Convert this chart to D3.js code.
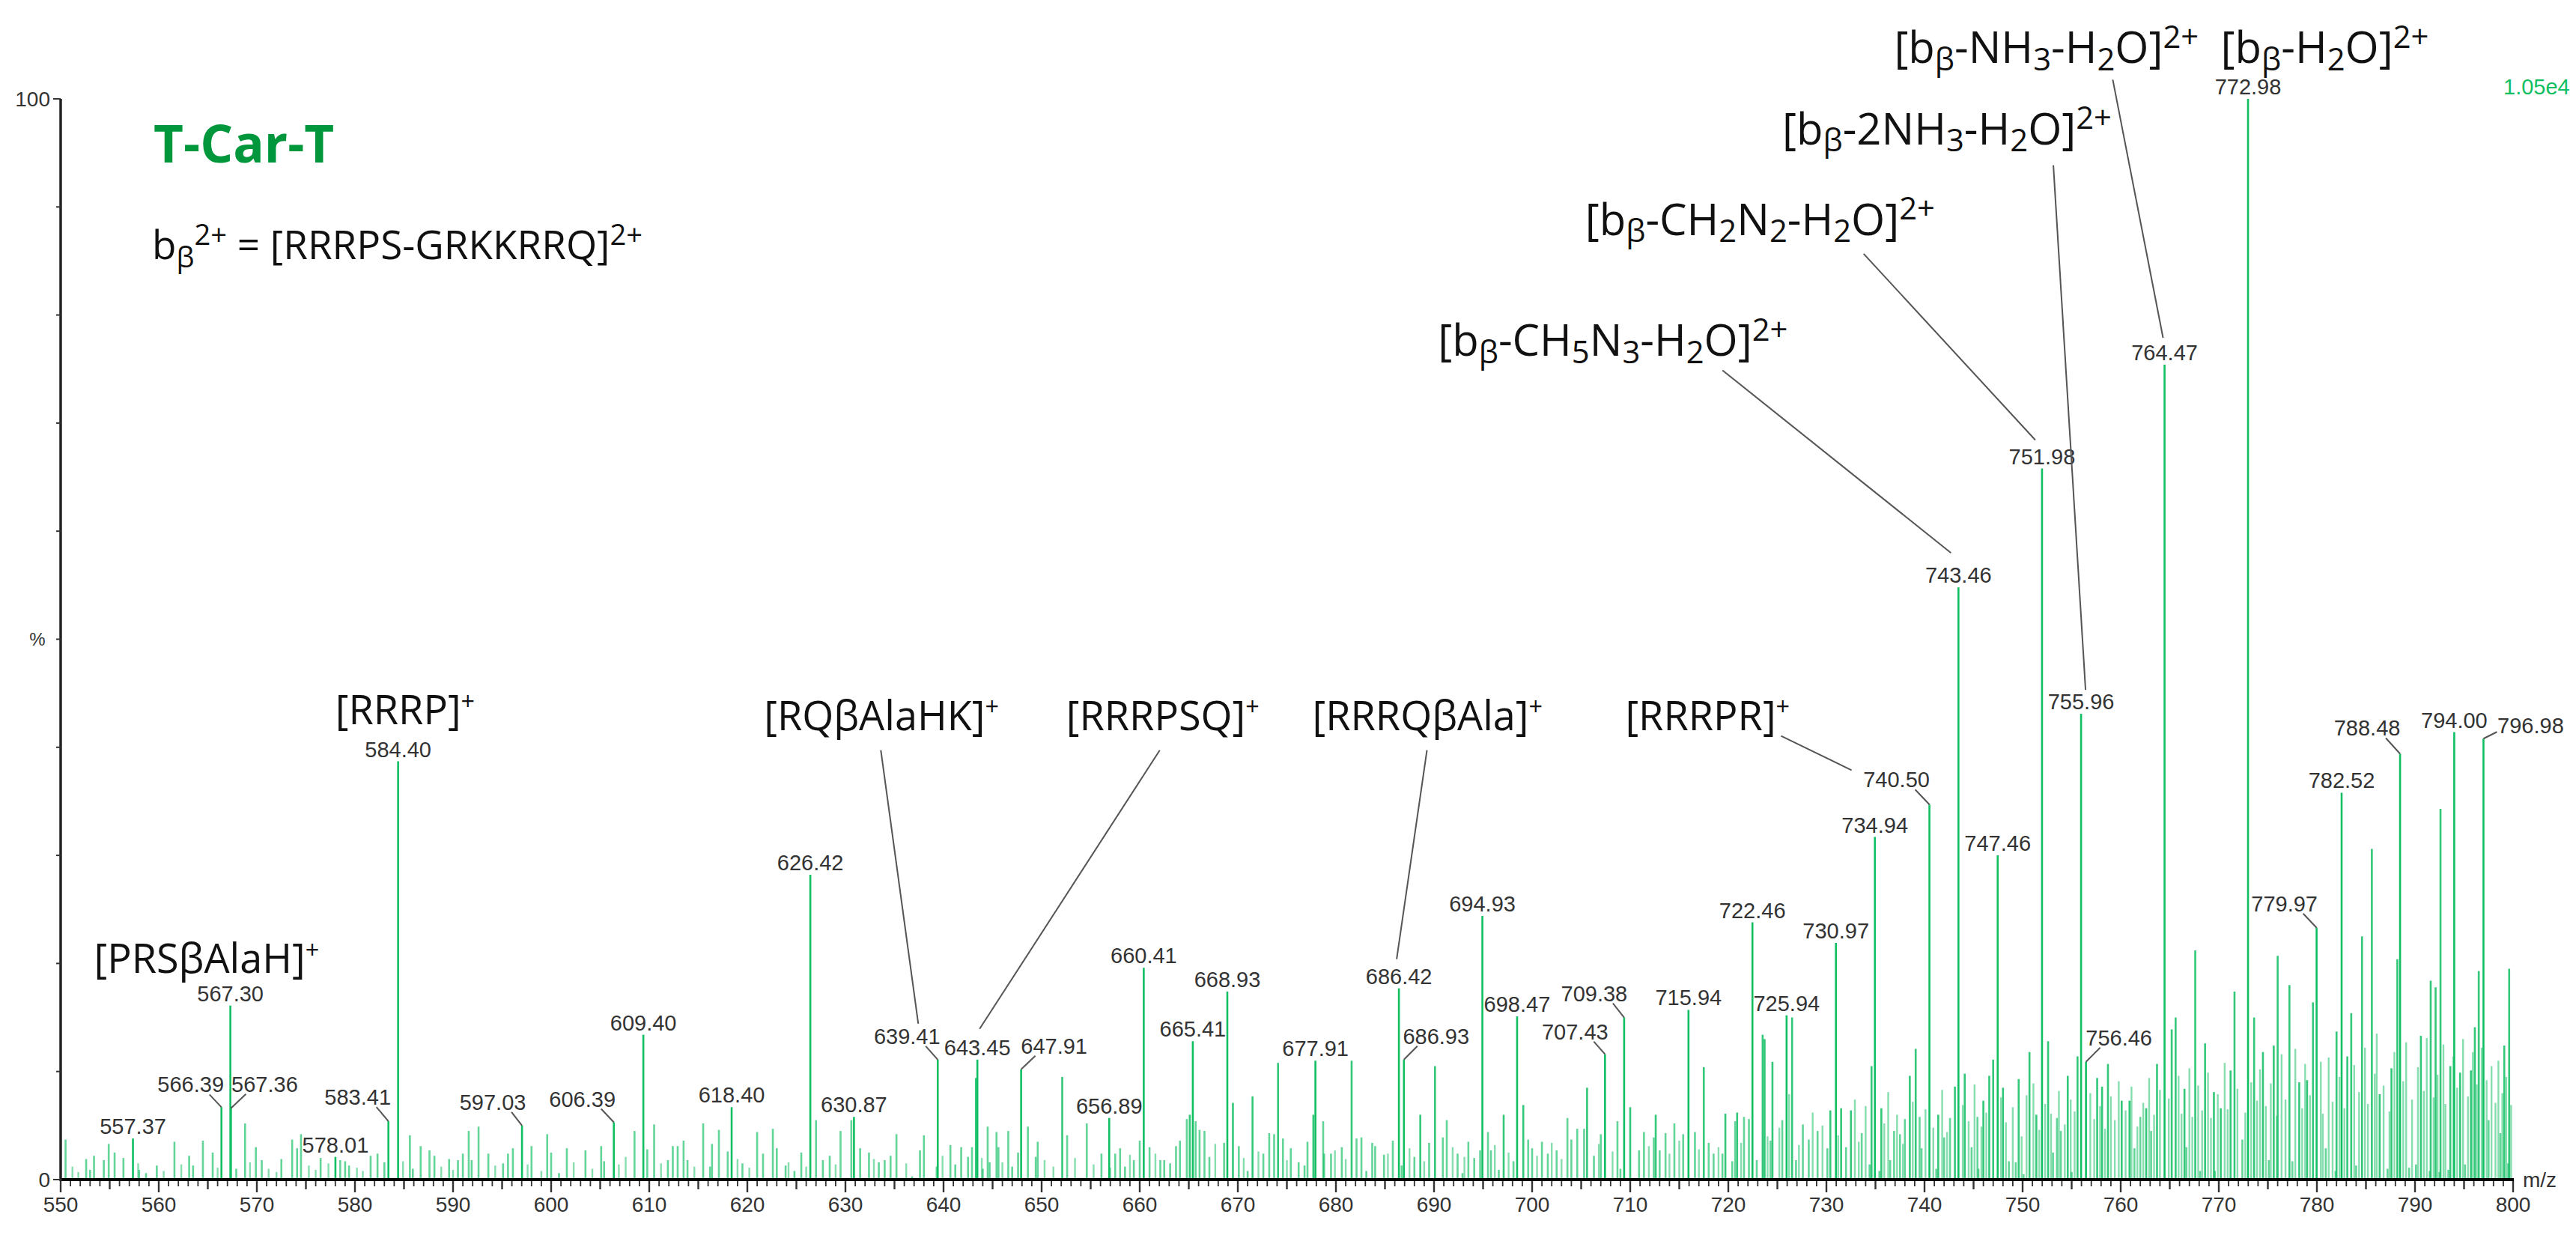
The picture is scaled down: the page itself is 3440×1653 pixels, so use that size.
<!DOCTYPE html>
<html>
<head>
<meta charset="utf-8">
<script src="https://cdn.jsdelivr.net/npm/d3@7"></script>
<style>
  body { margin: 0; background: #fff; }
  svg { display: block; }
</style>
</head>
<body>
<svg id="chart" width="3440" height="1653"></svg>
<script>
// ---- data -------------------------------------------------------------
const mzRange = [550, 800];
const xTickLabels = d3.range(550, 801, 10);
const yTickLabels = [0, 100];

// labelled peaks: [m/z, relative intensity %]
const labelledPeaks = [
  [557.37, 3.8], [566.39, 6.7], [567.30, 16.1], [567.36, 6.6], [578.01, 2.1],
  [583.41, 5.4], [584.40, 38.7], [597.03, 5.0], [606.39, 5.3], [609.40, 13.4],
  [618.40, 6.7], [626.42, 28.2], [630.87, 5.8], [639.41, 11.1], [643.45, 11.1],
  [647.91, 10.2], [656.89, 5.7], [660.41, 19.6], [665.41, 12.8], [668.93, 17.4],
  [677.91, 11.0], [686.42, 17.7], [686.93, 11.1], [694.93, 24.4], [698.47, 15.1],
  [707.43, 11.6], [709.38, 15.0], [715.94, 15.7], [722.46, 23.8], [725.94, 15.2],
  [730.97, 21.9], [734.94, 31.7], [740.50, 34.7], [743.46, 54.8], [747.46, 30.0],
  [751.98, 65.8], [755.96, 43.1], [756.46, 10.9], [764.47, 75.4], [772.98, 100],
  [779.97, 23.3], [782.52, 35.8], [788.48, 39.4], [794.00, 41.4], [796.98, 40.8]
];

// unlabelled peaks, 550-635
const peaksLow = [
  [550.5, 3.7], [552.6, 1.9], [553.0, 0.9], [553.4, 2.2], [554.4, 1.8], [554.9, 3.3],
  [555.5, 2.5], [556.4, 2.0], [558.0, 0.9], [558.7, 0.6], [559.8, 1.3], [561.6, 3.5],
  [563.1, 2.2], [563.5, 1.3], [564.5, 3.6], [565.5, 2.5], [567.9, 1.0], [568.8, 5.2],
  [569.9, 3.0], [570.5, 1.8], [572.5, 1.9], [573.6, 3.7], [574.1, 2.9], [574.5, 4.2],
  [576.5, 2.0], [578.5, 1.8], [579.0, 1.7], [579.4, 1.3], [581.6, 2.2], [582.3, 2.4],
  [583.0, 1.6], [585.6, 4.1], [585.9, 1.0], [586.7, 3.1], [587.6, 2.7], [588.1, 2.2],
  [589.6, 1.9], [590.5, 1.8], [591.0, 2.4], [591.6, 4.5], [591.9, 1.8], [592.6, 4.9],
  [593.6, 2.4], [595.1, 1.5], [595.6, 2.4], [596.1, 2.9], [598.0, 3.1], [599.6, 4.2],
  [600.0, 2.5], [600.8, 0.6], [601.6, 2.9], [603.5, 2.7], [605.1, 3.1], [605.4, 1.7],
  [608.5, 4.5], [609.8, 2.8], [610.5, 5.1], [611.9, 1.8], [612.4, 3.1], [612.9, 3.1],
  [613.5, 3.6], [613.9, 1.8], [615.5, 5.2], [616.2, 1.2], [616.4, 3.3], [617.1, 4.6],
  [618.0, 2.6], [619.5, 1.5], [621.0, 4.4], [621.6, 2.4], [622.6, 4.7], [623.0, 2.9],
  [623.9, 1.3], [624.8, 0.8], [625.5, 2.5], [627.0, 5.5], [627.7, 1.8], [628.4, 2.2],
  [629.5, 4.5], [630.6, 5.5], [631.5, 2.9], [632.4, 2.5], [633.4, 1.6], [634.0, 1.8],
  [634.6, 2.2], [635.2, 4.2]
];

// unlabelled peaks, 636-725
const peaksMid = [
  [636.8, 0.3], [637.6, 2.7], [638.0, 4.1], [639.3, 1.2], [640.7, 3.2], [641.2, 1.4],
  [641.8, 3.0], [642.5, 2.1], [642.9, 3.0], [643.3, 9.4], [644.0, 1.0], [644.5, 4.9],
  [644.7, 1.6], [645.4, 4.4], [645.6, 3.0], [646.6, 4.5], [647.0, 1.2], [647.6, 2.5],
  [648.6, 4.9], [649.4, 2.1], [649.6, 3.5], [652.1, 9.5], [652.6, 4.1], [654.6, 5.2],
  [656.1, 2.4], [657.5, 2.4], [658.0, 2.9], [658.5, 1.2], [659.4, 1.8], [660.0, 3.6],
  [661.0, 3.0], [662.1, 1.8], [662.5, 1.8], [663.1, 1.5], [663.7, 3.1], [664.1, 3.6],
  [664.8, 5.6], [665.1, 6.0], [665.7, 5.4], [666.1, 4.6], [666.6, 4.5], [667.1, 2.1],
  [668.6, 3.4], [669.5, 7.1], [670.1, 3.1], [671.0, 0.8], [671.5, 7.7], [672.6, 2.4],
  [673.2, 4.3], [673.7, 4.2], [674.1, 10.8], [674.6, 3.8], [675.4, 2.9], [676.2, 1.6],
  [676.8, 1.3], [677.1, 3.5], [677.7, 6.0], [678.7, 5.4], [678.8, 2.4], [679.5, 2.4],
  [680.6, 3.0], [681.6, 11.0], [682.1, 3.8], [682.6, 3.9], [683.1, 0.8], [683.7, 3.4],
  [684.0, 3.1], [684.9, 2.3], [685.8, 3.6], [686.7, 1.3], [688.0, 2.1], [688.6, 6.0],
  [689.5, 3.4], [690.1, 10.5], [690.9, 3.9], [691.3, 5.5], [692.4, 2.4], [692.9, 0.6],
  [693.5, 3.5], [694.1, 2.0], [694.7, 2.7], [695.5, 4.4], [695.8, 2.7], [696.6, 0.9],
  [697.1, 6.0], [698.1, 1.7], [699.1, 6.9], [699.6, 3.7], [700.0, 2.9], [701.0, 3.5],
  [701.6, 2.4], [702.5, 2.7], [703.6, 5.7], [704.0, 3.7], [704.6, 4.7], [705.3, 4.7],
  [705.6, 8.5], [706.3, 2.2], [707.0, 4.2], [708.7, 5.4], [709.0, 1.0], [710.0, 6.7],
  [710.9, 2.7], [711.4, 4.4], [712.4, 3.9], [712.6, 6.0], [713.0, 2.7], [713.6, 4.3],
  [714.5, 5.2], [715.4, 4.2], [716.6, 4.4], [717.5, 10.4], [718.0, 3.4], [718.5, 2.4],
  [719.4, 2.4], [719.7, 6.1], [720.4, 1.7], [720.7, 5.4], [720.9, 6.2], [721.6, 5.8],
  [722.1, 5.6], [722.9, 1.8], [723.5, 13.4], [723.7, 13.0], [724.3, 3.6], [724.5, 10.9],
  [725.5, 5.5]
];

// unlabelled peaks, 726-800
const peaksHigh = [
  [726.5, 15.0], [726.9, 1.8], [727.6, 5.1], [728.2, 3.7], [729.1, 4.5], [730.1, 2.9],
  [730.4, 6.4], [731.5, 6.6], [732.0, 3.0], [732.5, 6.4], [733.6, 4.3], [734.4, 1.4],
  [734.6, 10.5], [735.4, 0.8], [735.6, 6.6], [736.5, 1.8], [736.9, 4.5], [737.5, 4.2],
  [738.0, 5.6], [738.5, 9.6], [739.1, 12.1], [739.5, 5.8], [739.7, 2.9], [741.2, 1.0],
  [741.4, 6.0], [742.0, 3.9], [742.6, 5.7], [743.1, 8.6], [744.1, 9.8], [744.8, 3.0],
  [745.4, 5.8], [745.5, 1.0], [746.0, 7.3], [746.6, 9.6], [747.0, 11.1], [748.0, 8.5],
  [748.6, 1.7], [749.3, 1.6], [749.6, 9.3], [750.1, 0.5], [750.7, 11.8], [751.4, 6.0],
  [752.6, 12.8], [753.1, 2.5], [753.5, 5.7], [753.9, 4.5], [754.6, 9.6], [755.0, 0.7],
  [755.6, 11.4], [757.6, 9.4], [758.1, 8.6], [758.7, 10.7], [760.1, 7.3], [760.9, 7.3],
  [761.4, 2.9], [762.0, 5.8], [762.6, 6.6], [763.1, 4.5], [763.7, 10.7], [765.2, 13.9],
  [765.6, 15.0], [766.5, 8.4], [766.7, 3.0], [767.6, 21.2], [768.1, 0.8], [768.6, 12.6],
  [769.5, 8.1], [769.6, 0.8], [770.2, 6.6], [771.2, 10.1], [771.6, 17.4], [772.4, 3.7],
  [773.6, 15.0], [774.5, 11.8], [775.1, 1.8], [775.6, 12.4], [776.0, 20.7], [777.2, 18.0],
  [777.5, 1.7], [778.2, 9.0], [779.0, 9.2], [779.6, 16.4], [780.9, 2.9], [781.9, 0.8],
  [782.0, 13.7], [783.1, 11.4], [783.5, 15.4], [784.0, 1.3], [784.6, 22.5], [785.6, 30.6],
  [786.4, 7.9], [787.2, 1.0], [787.6, 10.3], [788.2, 20.4], [789.4, 1.1], [790.1, 1.4],
  [790.6, 13.3], [791.5, 0.8], [791.6, 18.4], [792.1, 17.8], [792.5, 0.7], [792.6, 34.3],
  [793.4, 0.9], [793.6, 10.5], [794.6, 9.9], [795.1, 1.4], [795.7, 10.1], [796.1, 14.1],
  [796.5, 19.3], [797.5, 5.5], [798.7, 4.3], [799.1, 12.4], [799.5, 1.5], [799.6, 19.5]
];

// fainter background peaks, 550-725
const minorLow = [
  [551.2, 1.2], [551.8, 0.7], [557.9, 1.5], [560.5, 0.8], [562.3, 1.4], [566.0, 1.1],
  [569.3, 1.6], [571.2, 1.0], [572.0, 0.7], [575.3, 1.3], [576.0, 0.9], [577.3, 1.5],
  [580.2, 1.1], [580.8, 0.8], [584.9, 1.7], [588.8, 1.2], [590.0, 0.9], [594.3, 1.3],
  [597.6, 1.4], [599.0, 0.8], [602.3, 1.6], [604.2, 1.0], [606.9, 1.4], [607.6, 2.1],
  [611.2, 1.5], [614.6, 1.2], [619.0, 1.9], [620.2, 1.1], [624.2, 1.6], [626.0, 1.2],
  [629.0, 1.4], [632.9, 1.9], [636.2, 1.5], [639.9, 2.2], [643.9, 2.0], [646.0, 1.6],
  [650.3, 1.8], [651.2, 1.2], [653.4, 2.0], [655.3, 1.4], [657.0, 1.1], [659.0, 2.3],
  [661.6, 2.4], [667.7, 3.3], [670.6, 2.0], [672.1, 2.6], [675.0, 1.8], [679.9, 2.7],
  [681.0, 1.9], [685.3, 2.4], [687.5, 2.9], [689.0, 1.7], [691.9, 3.0], [693.1, 2.1],
  [696.2, 3.2], [697.6, 2.5], [700.5, 2.2], [702.0, 3.4], [703.0, 1.9], [706.8, 3.3],
  [708.2, 2.6], [711.9, 3.1], [714.0, 2.4], [715.0, 3.6], [717.0, 2.8], [719.0, 3.0],
  [721.3, 3.4], [724.0, 4.0]
];

// fainter background peaks, 725-800
const minorHigh = [
  [725.2, 4.8], [726.2, 7.9], [727.2, 3.2], [728.6, 6.2], [729.6, 5.0], [731.2, 4.1],
  [732.9, 7.4], [733.3, 3.5], [734.0, 6.8], [735.9, 5.2], [736.3, 8.1], [737.2, 6.0],
  [737.8, 3.3], [738.8, 7.2], [740.1, 6.5], [740.9, 4.8], [741.8, 8.3], [742.3, 4.4],
  [743.9, 6.9], [744.5, 5.4], [745.1, 8.8], [745.8, 4.9], [746.3, 6.2], [747.8, 7.6],
  [748.3, 5.3], [749.0, 6.7], [749.9, 4.0], [750.4, 7.8], [751.1, 8.9], [751.7, 4.6],
  [752.3, 7.0], [752.9, 6.1], [753.7, 8.2], [754.3, 5.1], [754.9, 7.4], [755.3, 6.3],
  [756.9, 8.0], [757.3, 5.6], [757.9, 6.8], [758.4, 4.7], [759.0, 7.7], [759.4, 5.5],
  [759.8, 9.1], [760.5, 6.4], [761.1, 8.6], [761.7, 4.9], [762.3, 7.1], [762.9, 9.4],
  [763.4, 6.0], [764.0, 8.3], [764.9, 7.5], [765.9, 9.6], [766.2, 6.1], [767.0, 10.3],
  [767.3, 5.8], [767.9, 8.7], [768.3, 6.4], [768.9, 9.9], [769.2, 5.7], [769.9, 7.9],
  [770.6, 10.8], [770.9, 6.5], [771.9, 8.4], [772.7, 6.2], [773.3, 9.0], [773.9, 7.3],
  [774.2, 10.2], [774.8, 6.8], [775.3, 8.9], [775.9, 5.9], [776.4, 11.6], [776.8, 7.4],
  [777.8, 12.1], [778.5, 6.6], [778.8, 10.7], [779.3, 7.8], [780.4, 10.9], [780.6, 6.1],
  [781.2, 11.3], [781.6, 7.2], [782.3, 9.5], [782.8, 6.6], [783.8, 10.6], [784.3, 8.1],
  [784.9, 12.2], [785.2, 7.0], [785.9, 9.8], [786.1, 13.5], [786.8, 8.7], [787.4, 6.3],
  [787.9, 11.8], [788.8, 9.1], [789.1, 12.7], [789.7, 7.4], [790.3, 10.4], [790.9, 8.2],
  [791.2, 13.1], [791.9, 7.6], [792.3, 9.7], [792.9, 12.5], [793.1, 7.0], [793.9, 11.4],
  [794.3, 8.5], [794.9, 13.0], [795.4, 7.7], [795.9, 11.8], [796.3, 8.8], [796.8, 12.2],
  [797.3, 9.2], [797.8, 10.5], [798.2, 7.1], [798.5, 11.0], [798.9, 8.0], [799.3, 9.5],
  [799.8, 6.9]
];

// ion annotations (text pieces; "sub"/"sup" mark indices), and the peak they point at
const ionLabels = [
  { parts: [["[PRSβAlaH]"], ["+", "sup"]], target: null },
  { parts: [["[RRRP]"], ["+", "sup"]], target: null },
  { parts: [["[RQβAlaHK]"], ["+", "sup"]], target: "639.41" },
  { parts: [["[RRRPSQ]"], ["+", "sup"]], target: "643.45" },
  { parts: [["[RRRQβAla]"], ["+", "sup"]], target: "686.42" },
  { parts: [["[RRRPR]"], ["+", "sup"]], target: "740.50" },
  { parts: [["[b"], ["β", "sub"], ["-CH"], ["5", "sub"], ["N"], ["3", "sub"], ["-H"], ["2", "sub"], ["O]"], ["2+", "sup"]], target: "743.46", big: true },
  { parts: [["[b"], ["β", "sub"], ["-CH"], ["2", "sub"], ["N"], ["2", "sub"], ["-H"], ["2", "sub"], ["O]"], ["2+", "sup"]], target: "751.98", big: true },
  { parts: [["[b"], ["β", "sub"], ["-2NH"], ["3", "sub"], ["-H"], ["2", "sub"], ["O]"], ["2+", "sup"]], target: "755.96", big: true },
  { parts: [["[b"], ["β", "sub"], ["-NH"], ["3", "sub"], ["-H"], ["2", "sub"], ["O]"], ["2+", "sup"]], target: "764.47", big: true },
  { parts: [["[b"], ["β", "sub"], ["-H"], ["2", "sub"], ["O]"], ["2+", "sup"]], target: null, big: true }
];

const titleText = "T-Car-T";
const formulaParts = [["b"], ["β", "sub"], ["2+", "sup"], [" = [RRRPS-GRKKRRQ]"], ["2+", "sup"]];
const scaleText = "1.05e4";

// ---- layout -----------------------------------------------------------
const W = 3440, H = 1653;
const plot = { left: 81, right: 3356, top: 132, bottom: 1575 };
const green = "#10bf62";
const darkGreen = "#00963c";

// label shifts for peak labels drawn beside their peak: [dx px, extra raise px]
const labelShift = {
  "566.39": [-41, 14], "567.36": [45, 16], "583.41": [-41, 16], "597.03": [-39, 15],
  "606.39": [-42, 15], "639.41": [-41, 15], "647.91": [44, 15], "686.93": [43, 15],
  "707.43": [-40, 14], "709.38": [-40, 16], "740.50": [-44, 17], "756.46": [44, 16],
  "779.97": [-43, 16], "788.48": [-44, 18], "796.98": [63, 1]
};

// ion label anchor (m/z, %) + leader start offset and leader end offset (px)
const ionLayout = [
  { at: [553.4, 19.1] },
  { at: [578.0, 42.1] },
  { at: [621.7, 41.6], from: [156, 27], to: [15, -27] },
  { at: [652.5, 41.6], from: [125, 27], to: [3, -35] },
  { at: [677.6, 41.6], from: [153, 27], to: [-3, -33] },
  { at: [709.5, 41.6], from: [208, 8], to: [-60, -23] },
  { at: [690.4, 76.2], from: [380, 19], to: [-10, -40] },
  { at: [705.4, 87.4], from: [372, 25], to: [-9, -32] },
  { at: [725.5, 95.8], from: [362, 28], to: [6, -26] },
  { at: [736.9, 103.3], from: [292, 22], to: [-2, -30] },
  { at: [770.2, 103.3] }
];

const svg = d3.select("#chart");
svg.append("rect").attr("width", W).attr("height", H).attr("fill", "#fff");

const x = d3.scaleLinear().domain(mzRange).range([plot.left, plot.right]);
const y = d3.scaleLinear().domain([0, 100]).range([plot.bottom, plot.top]);

const numFont = "'Liberation Sans', Arial, sans-serif";
const ionFont = "'Open Sans', 'Noto Sans', sans-serif";

// ---- peaks ------------------------------------------------------------
const peakLayer = svg.append("g").attr("class", "peaks");

peakLayer.selectAll("line.minor")
  .data(minorLow.concat(minorHigh))
  .join("line")
  .attr("class", "minor")
  .attr("x1", d => x(d[0])).attr("x2", d => x(d[0]))
  .attr("y1", y(0)).attr("y2", d => y(d[1]))
  .attr("stroke", green)
  .attr("stroke-width", 2.4)
  .attr("opacity", 0.5);

peakLayer.selectAll("line.bg")
  .data(peaksLow.concat(peaksMid, peaksHigh))
  .join("line")
  .attr("class", "bg")
  .attr("x1", d => x(d[0])).attr("x2", d => x(d[0]))
  .attr("y1", y(0)).attr("y2", d => y(d[1]))
  .attr("stroke", green)
  .attr("stroke-width", 2.6)
  .attr("opacity", d => d[1] < 6 ? 0.65 : 0.85);

peakLayer.selectAll("line.main")
  .data(labelledPeaks)
  .join("line")
  .attr("class", "main")
  .attr("x1", d => x(d[0])).attr("x2", d => x(d[0]))
  .attr("y1", y(0)).attr("y2", d => y(d[1]))
  .attr("stroke", green)
  .attr("stroke-width", 2.6);

// ---- axes -------------------------------------------------------------
const axisLayer = svg.append("g").attr("class", "axes");

axisLayer.selectAll("line.xtick")
  .data(d3.range(550, 801, 1))
  .join("line")
  .attr("class", "xtick")
  .attr("x1", d => x(d)).attr("x2", d => x(d))
  .attr("y1", plot.bottom)
  .attr("y2", d => plot.bottom + (d % 10 === 0 ? 17 : d % 5 === 0 ? 13 : 9))
  .attr("stroke", "#333")
  .attr("stroke-width", d => d % 5 === 0 ? 2.4 : 1.8);

axisLayer.selectAll("text.xlabel")
  .data(xTickLabels)
  .join("text")
  .attr("class", "xlabel")
  .attr("x", d => x(d))
  .attr("y", plot.bottom + 43)
  .attr("text-anchor", "middle")
  .attr("font-family", numFont)
  .attr("font-size", 28)
  .attr("fill", "#333")
  .text(d => d);

axisLayer.append("line")
  .attr("x1", plot.left - 1).attr("x2", plot.right + 1)
  .attr("y1", plot.bottom).attr("y2", plot.bottom)
  .attr("stroke", "#000").attr("stroke-width", 4);

axisLayer.append("line")
  .attr("x1", plot.left).attr("x2", plot.left)
  .attr("y1", plot.top).attr("y2", plot.bottom + 2)
  .attr("stroke", "#222").attr("stroke-width", 3.5);

axisLayer.selectAll("line.ytick")
  .data(d3.range(0, 101, 10))
  .join("line")
  .attr("class", "ytick")
  .attr("x1", d => plot.left - (d % 100 === 0 ? 10 : 6)).attr("x2", plot.left)
  .attr("y1", d => y(d)).attr("y2", d => y(d))
  .attr("stroke", "#333").attr("stroke-width", 2);

axisLayer.selectAll("text.ylabel")
  .data(yTickLabels)
  .join("text")
  .attr("class", "ylabel")
  .attr("x", plot.left - 14)
  .attr("y", d => y(d) + 10)
  .attr("text-anchor", "end")
  .attr("font-family", numFont)
  .attr("font-size", 28)
  .attr("fill", "#333")
  .text(d => d);

axisLayer.append("text")
  .attr("x", 50).attr("y", y(50) + 8)
  .attr("text-anchor", "middle")
  .attr("font-family", numFont).attr("font-size", 24).attr("fill", "#333")
  .text("%");

axisLayer.append("text")
  .attr("x", plot.right + 13).attr("y", plot.bottom + 10)
  .attr("font-family", numFont).attr("font-size", 28).attr("fill", "#333")
  .text("m/z");

svg.append("text")
  .attr("x", 3343).attr("y", y(100) - 6)
  .attr("font-family", numFont).attr("font-size", 29).attr("fill", green)
  .text(scaleText);

// ---- peak labels -----------------------------------------------------
const fmt = d3.format(".2f");
const labelPos = new Map();
labelledPeaks.forEach(d => {
  const key = fmt(d[0]);
  const [dx, raise] = labelShift[key] || [0, 0];
  labelPos.set(key, { cx: x(d[0]) + dx, base: y(d[1]) - 6 - raise, px: x(d[0]), py: y(d[1]), dx });
});

const labelLayer = svg.append("g").attr("class", "peak-labels");
labelLayer.selectAll("text")
  .data(labelledPeaks)
  .join("text")
  .attr("x", d => labelPos.get(fmt(d[0])).cx)
  .attr("y", d => labelPos.get(fmt(d[0])).base)
  .attr("text-anchor", "middle")
  .attr("font-family", numFont)
  .attr("font-size", 29)
  .attr("fill", "#333")
  .text(d => fmt(d[0]));

labelLayer.selectAll("line")
  .data(labelledPeaks.filter(d => labelShift[fmt(d[0])]))
  .join("line")
  .each(function (d) {
    const p = labelPos.get(fmt(d[0]));
    const s = Math.sign(p.dx);
    const far = Math.abs(p.dx) > 55;
    d3.select(this)
      .attr("x1", p.cx - s * (far ? 45 : 25)).attr("y1", p.base + (far ? -2 : 3))
      .attr("x2", p.px).attr("y2", p.py);
  })
  .attr("stroke", "#555").attr("stroke-width", 2);

// ---- rich text helper ------------------------------------------------
function richText(sel, parts, size, small, subDrop) {
  let shift = 0;
  parts.forEach(([txt, kind]) => {
    const target = kind === "sub" ? size * subDrop : kind === "sup" ? -size * 0.36 : 0;
    sel.append("tspan")
      .attr("dy", target - shift)
      .attr("font-size", kind ? size * small : size)
      .text(txt);
    shift = target;
  });
}

// ---- ion annotations --------------------------------------------------
const ionLayer = svg.append("g").attr("class", "ions");
ionLabels.forEach((lab, i) => {
  const lay = ionLayout[i];
  const ax = x(lay.at[0]), ay = y(lay.at[1]);
  const size = lab.big ? 58 : 54;
  const t = ionLayer.append("text")
    .attr("x", ax).attr("y", ay)
    .attr("font-family", ionFont)
    .attr("fill", "#111");
  richText(t, lab.parts, size, lab.big ? 0.72 : 0.6, 0.16);

  if (lab.target && lay.from) {
    const p = labelPos.get(lab.target);
    ionLayer.append("line")
      .attr("x1", ax + lay.from[0]).attr("y1", ay + lay.from[1])
      .attr("x2", p.cx + lay.to[0]).attr("y2", p.base + lay.to[1])
      .attr("stroke", "#555").attr("stroke-width", 2);
  }
});

// ---- title block ------------------------------------------------------
svg.append("text")
  .attr("x", 205).attr("y", 217)
  .attr("font-family", ionFont).attr("font-weight", 700)
  .attr("font-size", 69).attr("fill", darkGreen)
  .text(titleText);

const formula = svg.append("text")
  .attr("x", 203).attr("y", 346)
  .attr("font-family", ionFont).attr("fill", "#111");
richText(formula, formulaParts, 53, 0.72, 0.2);
</script>
</body>
</html>
